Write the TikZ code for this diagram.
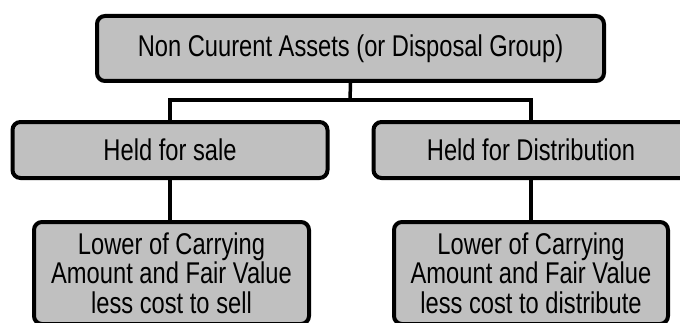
\documentclass[tikz,border=0pt]{standalone}
\usepackage{fontspec}
\setmainfont[FakeStretch=0.79]{Liberation Sans}
\usepackage{tikz}
\usepackage{xcolor}
\usetikzlibrary{positioning, calc}

\definecolor{boxgray}{RGB}{192,192,192}

\begin{document}
\begin{tikzpicture}[x=1pt, y=1pt,
    box/.style={draw=black, line width=4pt, rounded corners=8pt, fill=boxgray,
        inner sep=0pt, align=center, font=\fontsize{30}{29.5}\selectfont},
    conn/.style={draw=black, line width=3.5pt}]
    \useasboundingbox (0,0) rectangle (680,322);
    \clip (0,0) rectangle (680,322);

    % =========================================================
    % TOP: ASSET GROUP
    % =========================================================
    \node[box, minimum width=507pt, minimum height=65pt] (assets) at (350.5,273.5) {Non Cuurent Assets (or Disposal Group)};

    % =========================================================
    % MIDDLE: CLASSIFICATION
    % =========================================================
    \node[box, minimum width=315pt, minimum height=56pt] (sale) at (170,172) {Held for sale};
    \node[box, minimum width=315pt, minimum height=56pt] (distrib) at (531,172) {Held for Distribution};

    % =========================================================
    % BOTTOM: MEASUREMENT
    % =========================================================
    \node[box, anchor=north, minimum width=275pt, minimum height=102pt] (sellval) at (171.5,102) {Lower of Carrying\\Amount and Fair Value\\less cost to sell};
    \node[box, anchor=north, minimum width=274pt, minimum height=102pt] (distval) at (531,102) {Lower of Carrying\\Amount and Fair Value\\less cost to distribute};

    % Connectors
    \coordinate (split) at (350,222);
    \draw[conn] (assets.south) -- (split);
    \draw[conn] (sale.north) |- (split) -| (distrib.north);
    \draw[conn] (sale.south) -- (sale.south |- sellval.north);
    \draw[conn] (distrib.south) -- (distval.north);
\end{tikzpicture}
\end{document}
